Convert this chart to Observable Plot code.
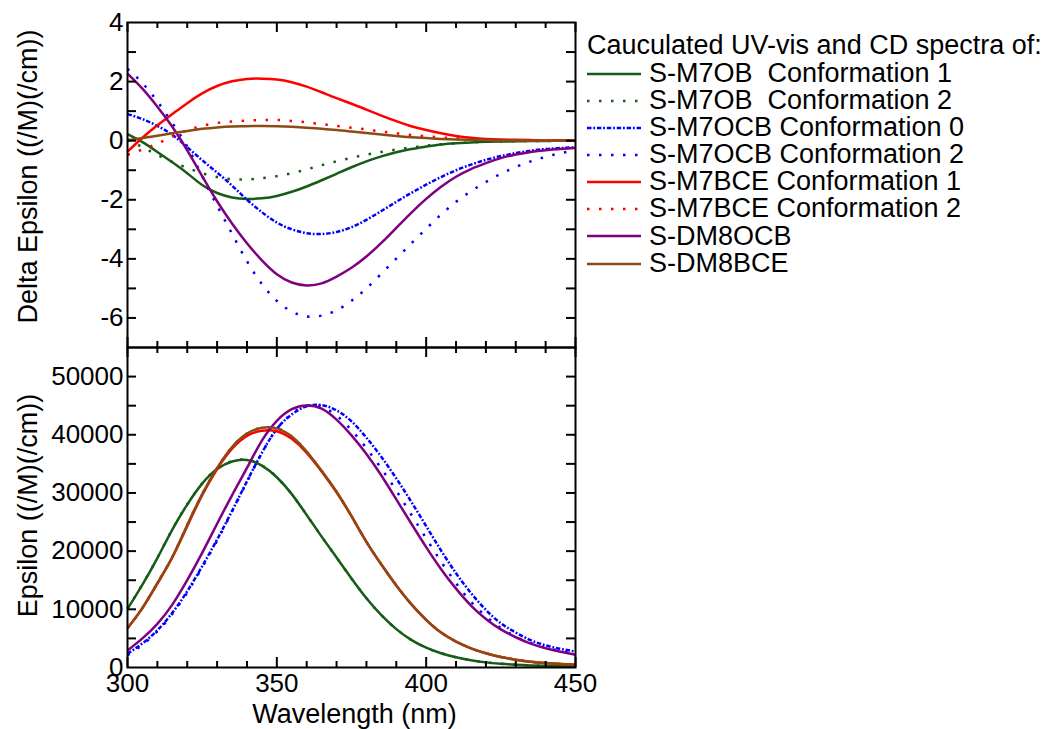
<!DOCTYPE html>
<html><head><meta charset="utf-8">
<script src="https://cdn.jsdelivr.net/npm/d3@7"></script>
<script src="https://cdn.jsdelivr.net/npm/@observablehq/plot@0.6"></script>
<style>
body{margin:0;background:#fff;font-family:"Liberation Sans",Arial,sans-serif;}
#wrap{position:relative;width:1047px;height:729px;overflow:hidden;background:#fff;}
#wrap > *{position:absolute;}
.leg{font-size:27px;line-height:27px;white-space:pre;color:#000;}
</style></head><body><div id="wrap"></div>
<script>
// ---------- data ----------
const wavelength = [300,305,310,315,320,325,330,335,340,345,350,355,360,365,370,375,380,385,390,395,400,405,410,415,420,425,430,435,440,445,450];

const seriesNames = [
  "S-M7OB  Conformation 1",
  "S-M7OB  Conformation 2",
  "S-M7OCB Conformation 0",
  "S-M7OCB Conformation 2",
  "S-M7BCE Conformation 1",
  "S-M7BCE Conformation 2",
  "S-DM8OCB",
  "S-DM8BCE"
];

// CD spectra (Delta Epsilon)
const cdM7OB1  = [0.22,-0.05,-0.38,-0.73,-1.1,-1.5,-1.77,-1.92,-1.97,-1.95,-1.87,-1.73,-1.55,-1.34,-1.12,-0.9,-0.7,-0.53,-0.39,-0.28,-0.2,-0.13,-0.09,-0.06,-0.04,-0.03,-0.02,-0.01,-0.01,0,0];
const cdM7OB2  = [0.05,-0.22,-0.48,-0.72,-0.92,-1.1,-1.23,-1.3,-1.31,-1.27,-1.2,-1.1,-0.97,-0.83,-0.7,-0.58,-0.47,-0.38,-0.3,-0.23,-0.17,-0.12,-0.09,-0.06,-0.04,-0.03,-0.02,-0.01,-0.01,0,0];
const cdM7OCB0 = [0.9,0.73,0.5,0.2,-0.22,-0.66,-1.08,-1.52,-2.0,-2.42,-2.77,-3.0,-3.13,-3.16,-3.09,-2.93,-2.68,-2.38,-2.07,-1.77,-1.49,-1.23,-1.0,-0.81,-0.65,-0.52,-0.42,-0.34,-0.28,-0.25,-0.22];
const cdM7OCB2 = [2.43,1.95,1.33,0.6,-0.2,-1.2,-2.2,-3.15,-4.08,-4.85,-5.42,-5.78,-5.95,-5.92,-5.74,-5.42,-5.0,-4.5,-3.99,-3.48,-2.98,-2.5,-2.07,-1.71,-1.4,-1.12,-0.89,-0.7,-0.55,-0.42,-0.33];
const cdM7BCE1 = [-0.37,0.1,0.52,0.9,1.27,1.6,1.85,2.01,2.09,2.1,2.07,1.98,1.83,1.64,1.44,1.25,1.05,0.85,0.66,0.49,0.36,0.25,0.16,0.1,0.06,0.04,0.03,0.02,0.01,0.01,0.01];
const cdM7BCE2 = [-0.48,-0.3,-0.1,0.14,0.35,0.5,0.6,0.65,0.68,0.7,0.7,0.67,0.62,0.56,0.5,0.44,0.38,0.31,0.25,0.19,0.15,0.11,0.08,0.05,0.03,0.02,0.01,0.01,0,0,0];
const cdDM8OCB = [2.27,1.76,1.15,0.47,-0.33,-1.2,-2.05,-2.8,-3.47,-4.05,-4.52,-4.8,-4.9,-4.83,-4.6,-4.3,-3.92,-3.46,-2.95,-2.44,-1.97,-1.56,-1.22,-0.96,-0.76,-0.59,-0.47,-0.38,-0.32,-0.28,-0.25];
const cdDM8BCE = [0.01,0.09,0.17,0.25,0.33,0.4,0.45,0.48,0.49,0.5,0.49,0.47,0.44,0.4,0.36,0.31,0.26,0.21,0.16,0.12,0.09,0.06,0.04,0.03,0.02,0.01,0.01,0,0,0,0];

// UV-vis spectra (Epsilon)
const uvM7OB1  = [10070,14250,18800,23700,28000,31600,34100,35400,35650,34700,32700,29800,26200,22500,18900,15300,11900,9000,6600,4750,3400,2450,1750,1250,880,640,470,360,290,250,230];
const uvM7OB2  = [10100,14300,18850,23750,28050,31650,34150,35500,35700,34750,32700,29800,26200,22500,18900,15300,11900,9000,6600,4750,3400,2450,1750,1250,880,640,470,360,290,250,230];
const uvM7OCB0 = [2350,4150,6400,9400,13100,17400,22000,26900,32000,36900,41000,43500,44900,45100,44200,42300,39500,36200,32500,28500,24300,20100,16200,12800,9900,7600,6000,4700,3800,3200,2750];
const uvM7OCB2 = [2100,3900,6200,9200,12900,17200,21800,26800,31900,36900,41000,43600,45000,44800,43300,40800,37700,34200,30400,26300,22200,18200,14500,11300,8800,6800,5300,4200,3400,2850,2500];
const uvM7BCE1 = [6750,10200,14400,18900,24300,29600,34100,37600,39800,40700,40600,39300,36900,33700,30100,26000,21600,17700,14100,10900,8200,6000,4450,3300,2450,1800,1350,1000,760,600,480];
const uvM7BCE2 = [6750,10250,14500,19000,24500,29800,34300,37900,40200,41200,41100,39700,37100,33800,30200,26000,21600,17700,14100,10900,8200,6000,4450,3300,2450,1800,1350,1000,760,600,480];
const uvDM8OCB = [2920,5000,7500,10800,15000,19700,24700,29600,34300,39000,42400,44400,45050,44500,42600,39900,36700,33000,28900,24750,20700,16900,13550,10650,8350,6550,5200,4100,3300,2700,2200];
const uvDM8BCE = [6750,10250,14500,19000,24500,29800,34300,37900,40200,41200,41100,39700,37100,33800,30200,26000,21600,17700,14100,10900,8200,6000,4450,3300,2450,1800,1350,1000,760,600,480];

const xMajorTicks = [300,350,400,450];
const xMinorTicks = [310,320,330,340,360,370,380,390,410,420,430,440];
const cdTickLabels = [4,2,0,-2,-4,-6];
const cdTicks = [-6,-5,-4,-3,-2,-1,0,1,2,3];
const uvTickLabels = [0,10000,20000,30000,40000,50000];
const uvTicks = [5000,10000,15000,20000,25000,30000,35000,40000,45000,50000];

const cdSeries = [cdM7OB1,cdM7OB2,cdM7OCB0,cdM7OCB2,cdM7BCE1,cdM7BCE2,cdDM8OCB,cdDM8BCE];
const uvSeries = [uvM7OB1,uvM7OB2,uvM7OCB0,uvM7OCB2,uvM7BCE1,uvM7BCE2,uvDM8OCB,uvDM8BCE];

// ---------- styles ----------
const GREEN="#165c16", BLUE="#0000ff", RED="#ff0000", PURPLE="#800080", BROWN="#8c4a14";
const DOT="2.5,9.5", DASHDOT="4.5,1.8,1.8,1.8";
const styles = [
  {stroke:GREEN, w:2.5, dash:null},
  {stroke:GREEN, w:2.5, dash:DOT},
  {stroke:BLUE,  w:2.5, dash:DASHDOT},
  {stroke:BLUE,  w:2.5, dash:DOT},
  {stroke:RED,   w:2.5, dash:null},
  {stroke:RED,   w:2.5, dash:DOT},
  {stroke:PURPLE,w:2.5, dash:null},
  {stroke:BROWN, w:2.5, dash:null}
];

function rows(arr){ return wavelength.map((wl,i)=>({wl, v:arr[i]})); }

const W = 580, ML = 127, MR = 5;
const plotW = W - ML - MR;

function panel({series, domain, ticks, tickLabels, label, height, mt, mb, labelDy, showX}){
  const plotH = height - mt - mb;
  const marks = [];
  series.forEach((arr,i)=>{
    const s = styles[i];
    marks.push(Plot.line(rows(arr), {x:"wl", y:"v", stroke:s.stroke, strokeWidth:s.w,
      strokeDasharray:s.dash || undefined, curve:"natural", strokeLinecap:"butt"}));
  });
  // inward ticks on all four sides
  const tk = {stroke:"black", strokeWidth:2};
  marks.push(Plot.ruleY(ticks, {y:d=>d, insetRight:plotW-9, ...tk}));
  marks.push(Plot.ruleY(ticks, {y:d=>d, insetLeft:plotW-9, ...tk}));
  marks.push(Plot.ruleX(xMinorTicks, {x:d=>d, insetBottom:plotH-6, ...tk}));
  marks.push(Plot.ruleX(xMinorTicks, {x:d=>d, insetTop:plotH-6, ...tk}));
  marks.push(Plot.ruleX(xMajorTicks, {x:d=>d, insetBottom:plotH-10, ...tk}));
  marks.push(Plot.ruleX(xMajorTicks, {x:d=>d, insetTop:plotH-10, ...tk}));
  marks.push(Plot.frame({stroke:"black", strokeWidth:2}));
  // tick labels
  marks.push(Plot.text(tickLabels, {y:d=>d, text:d=>String(d), frameAnchor:"left", textAnchor:"end", lineAnchor:"middle", dx:-4, fontSize:26, fill:"black"}));
  marks.push(Plot.text([label], {frameAnchor:"left", textAnchor:"middle", lineAnchor:"middle", dx:-99, dy:labelDy, rotate:-90, fontSize:27, fill:"black"}));
  if (showX){
    marks.push(Plot.text(xMajorTicks, {x:d=>d, text:d=>String(d), frameAnchor:"bottom", textAnchor:"middle", lineAnchor:"middle", dy:16, fontSize:26, fill:"black"}));
    marks.push(Plot.text(["Wavelength (nm)"], {frameAnchor:"bottom", textAnchor:"middle", lineAnchor:"middle", dx:3, dy:47, fontSize:27, fill:"black"}));
  }
  return Plot.plot({
    width: W, height, marginLeft: ML, marginRight: MR, marginTop: mt, marginBottom: mb,
    x: {domain:[300,450], axis:null},
    y: {domain, axis:null},
    style: {background:"transparent", fontFamily:"'Liberation Sans', Arial, sans-serif", overflow:"visible", color:"black"},
    marks
  });
}

const wrap = document.getElementById("wrap");

const top1 = panel({series:cdSeries, domain:[-7,4], ticks:cdTicks, tickLabels:cdTickLabels,
  label:"Delta Epsilon ((/M)(/cm))", height:349, mt:22, mb:2, labelDy:-8.5, showX:false});
top1.style.left = "0px"; top1.style.top = "0px";
wrap.appendChild(top1);

const bot = panel({series:uvSeries, domain:[0,55000], ticks:uvTicks, tickLabels:uvTickLabels,
  label:"Epsilon ((/M)(/cm))", height:384, mt:2, mb:62, labelDy:-2, showX:true});
bot.style.left = "0px"; bot.style.top = "345px";
wrap.appendChild(bot);

// ---------- legend ----------
const title = document.createElement("div");
title.className = "leg";
title.textContent = "Cauculated UV-vis and CD spectra of:";
title.style.left = "587px"; title.style.top = "31.5px";
wrap.appendChild(title);

seriesNames.forEach((name,i)=>{
  const cy = 73.5 + 27.15*i;
  const svg = d3.create("svg").attr("width",58).attr("height",12)
    .style("position","absolute").style("left","585px").style("top",(cy-6)+"px");
  const s = styles[i];
  const ln = svg.append("line").attr("x1",2).attr("x2",56).attr("y1",6).attr("y2",6)
    .attr("stroke",s.stroke).attr("stroke-width",s.w);
  if (s.dash) ln.attr("stroke-dasharray", s.dash);
  wrap.appendChild(svg.node());
  const t = document.createElement("div");
  t.className = "leg";
  t.textContent = name;
  t.style.left = "649px"; t.style.top = (cy + 9 - 22.8) + "px";
  wrap.appendChild(t);
});
</script></body></html>
